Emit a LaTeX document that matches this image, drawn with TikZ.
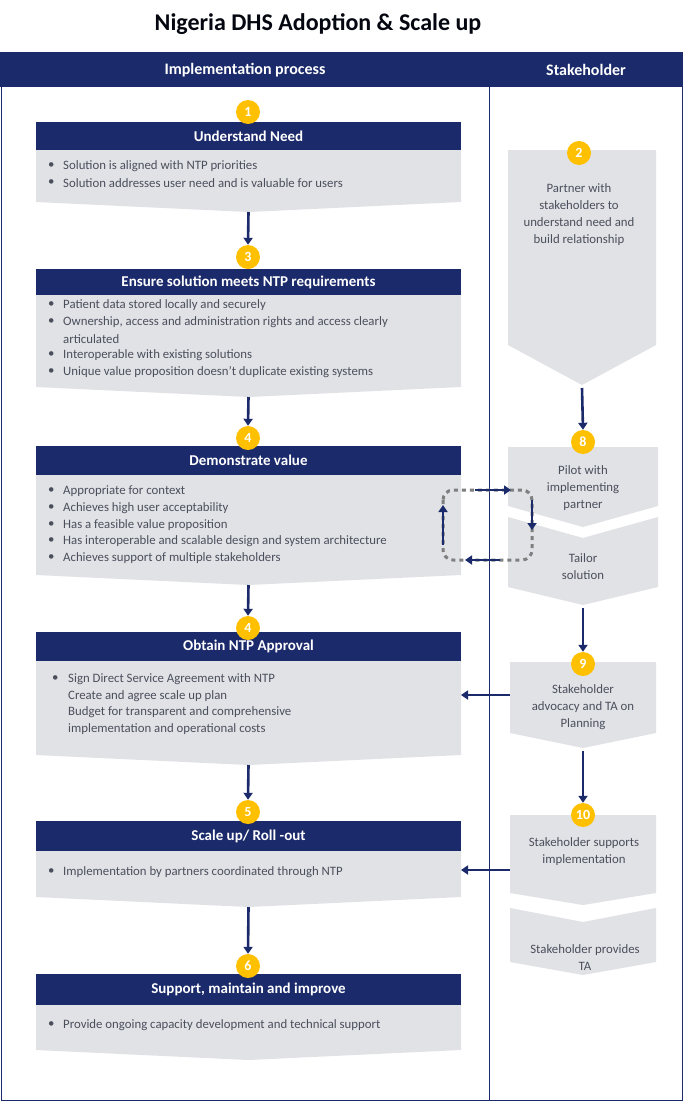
\documentclass[tikz,border=0pt]{standalone}
\usepackage{fontspec}
\setmainfont{Carlito}
\usetikzlibrary{arrows.meta}
\definecolor{navy}{HTML}{1B2A6B}
\definecolor{gbox}{HTML}{E1E2E6}
\definecolor{txt}{HTML}{4A4F5C}
\definecolor{yel}{HTML}{FFC000}
\definecolor{dotg}{HTML}{7F7F7F}
\tikzset{
 num/.style={circle,fill=yel,minimum size=24pt,inner sep=0pt,text=white,font=\bfseries\fontsize{14}{14}\selectfont},
 hd/.style={text=white,font=\bfseries\fontsize{15}{16}\selectfont},
 bt/.style={text=txt,font=\fontsize{12.8}{14}\selectfont,anchor=west,inner sep=0pt},
 rt/.style={text=txt,font=\fontsize{12.8}{17}\selectfont,align=center,inner sep=0pt},
 arr/.style={navy,line width=2.6pt,-{Triangle[length=7pt,width=9pt]}},
}
\newcommand{\bl}[2]{\node[bt] at (48,#1) {•}; \node[bt] at (63,#1) {#2};}
\newcommand{\nl}[2]{\node[bt] at (68,#1) {#2};}
\newcommand{\lbox}[6]{%
 \fill[gbox] (36,#3) -- (461,#3) -- (461,#4) -- (248.5,#4+10) -- (36,#4) -- cycle;
 \fill[navy] (36,#2) rectangle (461,#3);
 \node[hd] (#1) at (248.5,{(#2+#3)/2}) {#5};
 \coordinate (#1b) at (248.5,#4+10);
 \coordinate (#1r) at (461,#6);}
\begin{document}
\begin{tikzpicture}[x=1pt,y=-1pt]
\useasboundingbox (0,0) rectangle (683,1103);
\fill[white] (0,0) rectangle (683,1103);
\node[font=\bfseries\fontsize{24}{26}\selectfont,text=black!85!navy] (title) at (318,24) {Nigeria DHS Adoption \& Scale up};
\fill[navy] (0,52) rectangle (683,87);
\node[hd,font=\bfseries\fontsize{16}{17}\selectfont] (h1) at (245,70) {Implementation process};
\node[hd,font=\bfseries\fontsize{16}{17}\selectfont] (h2) at (586,70) {Stakeholder};
\draw[navy,line width=0.8pt] (1,52) -- (1,1100) -- (682,1100) -- (682,52);
\draw[navy,line width=0.8pt] (489,87) -- (489,1100);

% left boxes
\lbox{b1}{122}{150}{202}{Understand Need}{0}
\bl{166}{Solution is aligned with NTP priorities}
\bl{183}{Solution addresses user need and is valuable for users}
\lbox{b3}{269}{295}{387}{Ensure solution meets NTP requirements}{0}
\bl{305}{Patient data stored locally and securely}
\bl{322}{Ownership, access and administration rights and access clearly}
\node[bt] at (63,339) {articulated};
\bl{355}{Interoperable with existing solutions}
\bl{372}{Unique value proposition doesn't duplicate existing systems}
\lbox{b4}{446}{475}{575}{Demonstrate value}{0}
\bl{491}{Appropriate for context}
\bl{508}{Achieves high user acceptability}
\bl{525}{Has a feasible value proposition}
\bl{541}{Has interoperable and scalable design and system architecture}
\bl{558}{Achieves support of multiple stakeholders}
\lbox{b5}{632}{661}{755}{Obtain NTP Approval}{695}
\node[bt] at (52,679) {•};
\nl{679}{Sign Direct Service Agreement with NTP}
\nl{696}{Create and agree scale up plan}
\nl{712}{Budget for transparent and comprehensive}
\nl{729}{implementation and operational costs}
\lbox{b6}{821}{851}{897}{Scale up/ Roll -out}{870}
\bl{872}{Implementation by partners coordinated through NTP}
\lbox{b7}{974}{1005}{1050}{Support, maintain and improve}{0}
\bl{1025}{Provide ongoing capacity development and technical support}

% right boxes
\fill[gbox] (508,150) -- (656,150) -- (656,345) -- (582,385) -- (508,345) -- cycle;
\node[rt] (r2) at (579,215) {Partner with\\stakeholders to\\understand need and\\build relationship};
\coordinate (r2b) at (582,388);
\fill[gbox] (508,447) -- (658,447) -- (658,506) -- (583,527) -- (508,506) -- cycle;
\node[rt] (r8) at (583,488) {Pilot with\\implementing\\partner};
\fill[gbox] (508,517) -- (583,538) -- (658,517) -- (658,587) -- (583,605) -- (508,587) -- cycle;
\node[rt] (rt) at (583,567) {Tailor\\solution};
\coordinate (rtb) at (583,608);
\fill[gbox] (510,662) -- (656,662) -- (656,733) -- (583,748) -- (510,733) -- cycle;
\node[rt] (r9) at (583,707) {Stakeholder\\advocacy and TA on\\Planning};
\coordinate (r9b) at (583,751);
\coordinate (r9l) at (510,695);
\fill[gbox] (510,815) -- (656,815) -- (656,893) -- (583,905) -- (510,893) -- cycle;
\node[rt] (r10) at (584,852) {Stakeholder supports\\implementation};
\coordinate (r10l) at (510,870);
\fill[gbox] (510,908) -- (583,922) -- (656,908) -- (656,962) -- (583,975) -- (510,962) -- cycle;
\node[rt] (r11) at (585,958) {Stakeholder provides\\TA};

% numbers
\node[num] (n1) at (248,112) {1};
\node[num] (n2) at (579,153) {2};
\node[num] (n3) at (248,257) {3};
\node[num] (n4) at (248,438) {4};
\node[num] (n4b) at (248,628) {4};
\node[num] (n5) at (248,812) {5};
\node[num] (n6) at (248,966) {6};
\node[num] (n8) at (583,442) {8};
\node[num] (n9) at (583,664) {9};
\node[num] (n10) at (583,815) {10};

% arrows
\draw[arr] (b1b) -- (n3.north);
\draw[arr] (b3b) -- (n4.north);
\draw[arr] (b4b) -- (n4b.north);
\draw[arr] (b5b) -- (n5.north);
\draw[arr] (b6b) -- (n6.north);
\draw[arr] (r2b) -- (n8.north);
\draw[arr] (rtb) -- (n9.north);
\draw[arr] (r9b) -- (n10.north);
\draw[arr] (r9l) -- (b5r);
\draw[arr] (r10l) -- (b6r);

% loop
\draw[dotg,line width=3pt,dash pattern=on 4pt off 4pt,rounded corners=10pt] (443,490) rectangle (532,560);
\coordinate (la) at (475,490); \coordinate (lb) at (511,490);
\coordinate (lc) at (532,500); \coordinate (ld) at (532,530);
\coordinate (le) at (500,560); \coordinate (lf) at (465,560);
\coordinate (lg) at (443,545); \coordinate (lh) at (443,505);
\draw[arr,line width=2.4pt] (la) -- (lb);
\draw[arr,line width=2.4pt] (lc) -- (ld);
\draw[arr,line width=2.4pt] (le) -- (lf);
\draw[arr,line width=2.4pt] (lg) -- (lh);
\end{tikzpicture}
\end{document}
